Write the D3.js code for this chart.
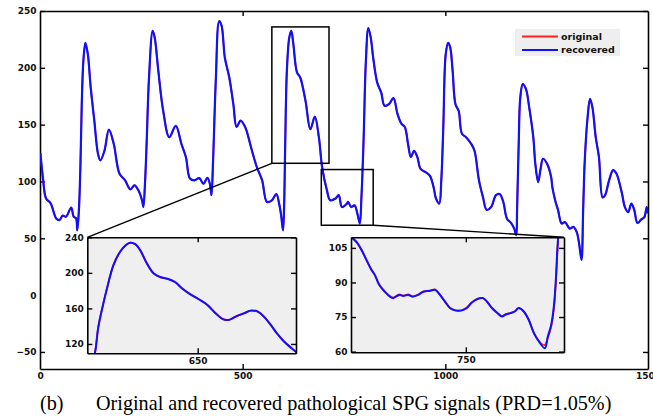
<!DOCTYPE html>
<html>
<head>
<meta charset="utf-8">
<script src="https://cdn.jsdelivr.net/npm/d3@7"></script>
<style>
  body { margin: 0; background: #fff; }
  .tick text { font-family: "DejaVu Sans", sans-serif; font-weight: bold; font-size: 9px; fill: #111; }
  .caption { font-family: "Liberation Serif", "Times New Roman", serif; font-size: 20.2px; fill: #000; }
  .legend text { font-family: "DejaVu Sans", sans-serif; font-weight: bold; font-size: 9.5px; fill: #111; }
</style>
</head>
<body>
<svg id="chart" width="653" height="417"></svg>
<script>
// main signal [sample, amplitude] (original and recovered overlap at this scale)
const mainSignal = [
  [1,125],[7,104],[15,85],[26,81],[40,67.5],[48,66],[56,70],[64,69],[77,77],[83,69],[89,67.5],[92,57],[96,75],
  [100,118],[103,168],[107,206],[112,222],[118,212],[125,183],[134,153.5],[143,124.5],[149,118.5],[159,127],
  [170,145.6],[182,133],[196,107],[210,101],[223,93],[233,96.5],[243,92],[252,83],[255,77.5],[259,98],[263,133],
  [269,191.5],[278,232.5],[283,226.6],[292,197],[304,162],[319,139],[335,149],[349,133],[360,121.4],[370,102.6],
  [381,101],[393,103],[403,98],[413,103.3],[419,98],[423,88],[427,118.5],[434,191.5],[442,241],[448,237],
  [456,209],[467,191.5],[477,168],[485,148],[495,153.5],[506,148],[511,143],[523,127],[535,112.6],[548,101],
  [560,82],[572,83.4],[583,89],[590,80.5],[595,70],[599.5,57],[602,75],[605,133],[609,197],[615,226.6],
  [620,232.5],[625,221],[634,196],[642,191.5],[655,171],[667,146],[678,157],[688,139],[696,112.6],[708,92],
  [716,83.4],[729,85],[737,88],[745,77.5],[757,80.5],[760,82],[768,77.5],[776,79],[783,71.7],[789,63],[793,86],
  [798,133],[804,206],[810,235],[816,226.6],[822,209],[832,187],[842,178],[850,166.7],[861,168],[872,173.4],
  [882,159.4],[892,150.6],[900,148],[908,133],[915,121.4],[923,127],[931,121.4],[939,111],[952,108],[962,105],
  [971,95],[977,85],[985,80.5],[990,101],[995,148],[1001,212],[1007,222],[1012,218],[1018,197.4],[1025,168],
  [1033,162],[1041,142],[1051,139],[1064,133],[1072,127],[1083,101],[1093,86],[1102,75],[1113,77.5],[1125,88],
  [1134,89],[1143,82],[1152,67.3],[1162,63.5],[1170,58.5],[1175,52.7],[1177,75],[1181,133],[1185,174],
  [1191,185.7],[1199,181.3],[1207,165],[1217,139],[1222,115.6],[1229,99.5],[1235,111],[1241,120],[1251,115.6],
  [1261,104],[1264,95],[1272,82],[1278,75],[1287,63],[1295,64.3],[1301,61.4],[1307,58.5],[1316,60],[1324,55.6],
  [1330,45.4],[1336,31],[1340,75],[1344,118.5],[1351,156.5],[1357,172.6],[1363,165],[1371,139],[1379,121.4],
  [1388,86],[1394,87.8],[1404,101],[1414,110],[1422,107],[1435,90.7],[1443,77.5],[1451,73],[1459,80.5],
  [1466,75],[1474,63.5],[1483,66.4],[1491,68.7],[1497,77.5],[1500,72]
];

// zoomed inset 1
const inset1Original = [
  [580,100],[582,109.5],[584.3,139.6],[587.6,165.8],[590.3,184.5],[594.3,208.9],[598.7,223.8],[602.7,231.3],
  [605.4,234],[608.7,232.1],[612,225.7],[616.4,210.8],[620.8,199.5],[625.3,195],[630.8,193.1],[635.2,189.4],
  [639.7,182.7],[644.7,176.3],[650.7,170.3],[656.3,163.9],[661.8,154.6],[666.9,147.9],[670.6,147.1],
  [675.1,150.8],[680.6,154.6],[685,157.5],[689.5,156.4],[693.9,150.8],[698.3,141.5],[702.3,132],
  [707.1,122.7],[712.1,115.2],[715.6,110.3]
];
const inset1Recovered = [
  [580,100],[582,109.5],[584.3,139.2],[587.6,165.4],[590.3,184.5],[594.3,208.6],[598.7,223.8],[602.7,231.6],
  [605.4,233.8],[608.7,232.3],[612,225.3],[616.4,210.5],[620.8,199.5],[625.3,195.3],[630.8,192.8],[635.2,189.4],
  [639.7,182.4],[644.7,176.3],[650.7,170.3],[656.3,164.2],[661.8,154.6],[666.9,147.7],[670.6,147.1],
  [675.1,150.8],[680.6,154.4],[685,157.5],[689.5,156.6],[693.9,150.5],[698.3,141.5],[702.3,132.2],
  [707.1,122.7],[712.1,115.2],[715.6,110.3]
];
const inset1YTicks = [120, 160, 200, 240];
const inset1XTicks = [650];

// zoomed inset 2
const inset2Original = [
  [681.2,109.6],[684.2,107.5],[687.3,104.3],[690.3,99.6],[693.3,95.6],[695.3,93.3],[697.9,89.2],[701.3,86],
  [704.3,84.1],[706.3,83.4],[710,84.8],[712.4,84.2],[715.4,84.8],[718,83.9],[721.4,84.8],[724.4,86],
  [728.5,86.4],[731.5,87],[734.5,84.6],[737.5,81.7],[740.5,78.9],[743.6,77.9],[747.6,77.9],[750.6,79.1],
  [753.6,81.3],[757,83],[760.3,83.2],[762.7,81.7],[765.7,78.9],[768.7,76.8],[771.7,75.4],[773.7,76.2],
  [776.8,76.7],[779.4,77.5],[781.8,78.9],[784.8,77.4],[787.8,73.8],[790.9,68.2],[793.9,64.6],[797.3,62.8],
  [799.3,66],[801.3,70.8],[802.9,78.5],[804.1,90],[805.1,104.5],[805.8,112]
];
const inset2Recovered = [
  [681.2,109.6],[684.2,107.7],[687.3,104.1],[690.3,99.8],[693.3,95.4],[695.3,93.3],[697.9,89],[701.3,86],
  [704.3,83.9],[706.3,83.2],[710,84.6],[712.4,84.2],[715.4,84.6],[718,83.9],[721.4,84.6],[724.4,86],
  [728.5,86.4],[731.5,86.8],[734.5,84.6],[737.5,81.7],[740.5,78.9],[743.6,77.9],[747.6,77.9],[750.6,78.9],
  [753.6,81.3],[757,82.8],[760.3,83.2],[762.7,81.7],[765.7,78.9],[768.7,77],[771.7,75.2],[773.7,76],
  [776.8,76.7],[779.4,77.4],[781.8,78.9],[784.8,77.4],[787.8,73.8],[790.9,68],[793.9,64.4],[797.5,61.5],
  [799.3,66.6],[801.3,71.6],[802.9,79.6],[804.1,91.1],[805.1,105.5],[805.8,112]
];
const inset2YTicks = [60, 75, 90, 105];
const inset2XTicks = [750];

const mainXTicks = [0, 500, 1000, 1500];
const mainYTicks = [-50, 0, 50, 100, 150, 200, 250];
const legendLabels = ["original", "recovered"];
const seriesColors = ["#ff2020", "#1010ff"];
const seriesWidths = [1.7, 2.2];
const captionTag = "(b)";
const captionText = "Original and recovered pathological SPG signals (PRD=1.05%)";

const svg = d3.select("#chart");
svg.append("rect").attr("width", 653).attr("height", 417).attr("fill", "#fff");

// main plot box
const box = { left: 40, right: 648, top: 11, bottom: 369 };
const x = d3.scaleLinear().domain([0, 1500]).range([box.left, box.right]);
const y = d3.scaleLinear().domain([-65, 250]).range([box.bottom, box.top]);
const fmt = d3.format("d");

function drawFrame(g, xs, ys, xt, yt, b) {
  g.append("g").attr("transform", `translate(0,${b.bottom})`)
    .call(d3.axisBottom(xs).tickValues(xt).tickFormat(fmt).tickSizeInner(-5).tickSizeOuter(0).tickPadding(4));
  g.append("g").attr("transform", `translate(0,${b.top})`)
    .call(d3.axisTop(xs).tickValues(xt).tickSizeInner(-5).tickSizeOuter(0).tickFormat(""));
  g.append("g").attr("transform", `translate(${b.left},0)`)
    .call(d3.axisLeft(ys).tickValues(yt).tickFormat(fmt).tickSizeInner(-5).tickSizeOuter(0).tickPadding(3.5));
  g.append("g").attr("transform", `translate(${b.right},0)`)
    .call(d3.axisRight(ys).tickValues(yt).tickSizeInner(-5).tickSizeOuter(0).tickFormat(""));
  g.selectAll(".domain").attr("stroke", "#000").attr("stroke-width", 1.6);
  g.selectAll(".tick line").attr("stroke", "#000").attr("stroke-width", 1.4);
  g.selectAll(".tick").filter(d => d === xs.domain()[0] || d === xs.domain()[1]).select("line").remove();
}

const mainG = svg.append("g");
drawFrame(mainG, x, y, mainXTicks, mainYTicks, box);

svg.append("clipPath").attr("id", "clipMain").append("rect")
  .attr("x", box.left).attr("y", box.top).attr("width", box.right - box.left).attr("height", box.bottom - box.top);

const mainLine = d3.line().x(d => x(d[0])).y(d => y(d[1])).curve(d3.curveCatmullRom.alpha(0.5));
[0, 1].forEach(i => {
  svg.append("path").datum(mainSignal)
    .attr("clip-path", "url(#clipMain)")
    .attr("d", mainLine)
    .attr("fill", "none")
    .attr("stroke", seriesColors[i])
    .attr("stroke-width", seriesWidths[i])
    .attr("stroke-linejoin", "round");
});

// zoom rectangles on main plot
const zoomRects = [
  { x0: 572, x1: 713, y0: 116, y1: 236 },
  { x0: 694, x1: 822, y0: 61.5, y1: 110.5 }
];
zoomRects.forEach(r => {
  svg.append("rect")
    .attr("x", x(r.x0)).attr("y", y(r.y1))
    .attr("width", x(r.x1) - x(r.x0)).attr("height", y(r.y0) - y(r.y1))
    .attr("fill", "none").attr("stroke", "#000").attr("stroke-width", 1.5);
});

// inset panels
const insets = [
  { b: { left: 87.3, right: 296, top: 237.3, bottom: 353.3 }, xd: [577, 715], yd: [109.5, 240],
    xt: inset1XTicks, yt: inset1YTicks, orig: inset1Original, rec: inset1Recovered },
  { b: { left: 351, right: 564, top: 237.3, bottom: 352.3 }, xd: [681, 809], yd: [59.7, 109.6],
    xt: inset2XTicks, yt: inset2YTicks, orig: inset2Original, rec: inset2Recovered }
];

// connector lines
svg.append("line")
  .attr("x1", x(zoomRects[0].x0)).attr("y1", y(zoomRects[0].y0))
  .attr("x2", insets[0].b.left).attr("y2", insets[0].b.top)
  .attr("stroke", "#000").attr("stroke-width", 1.4);
svg.append("line")
  .attr("x1", x(zoomRects[1].x1)).attr("y1", y(zoomRects[1].y0))
  .attr("x2", insets[1].b.right).attr("y2", insets[1].b.top)
  .attr("stroke", "#000").attr("stroke-width", 1.4);

insets.forEach((ins, k) => {
  const b = ins.b;
  const xs = d3.scaleLinear().domain(ins.xd).range([b.left, b.right]);
  const ys = d3.scaleLinear().domain(ins.yd).range([b.bottom, b.top]);
  const g = svg.append("g");
  g.append("rect").attr("x", b.left).attr("y", b.top)
    .attr("width", b.right - b.left).attr("height", b.bottom - b.top)
    .attr("fill", "#efefef");
  g.append("clipPath").attr("id", "clipInset" + k).append("rect")
    .attr("x", b.left).attr("y", b.top).attr("width", b.right - b.left).attr("height", b.bottom - b.top);
  const line = d3.line().x(d => xs(d[0])).y(d => ys(d[1])).curve(d3.curveCatmullRom);
  [ins.orig, ins.rec].forEach((data, i) => {
    g.append("path").datum(data)
      .attr("clip-path", `url(#clipInset${k})`)
      .attr("d", line)
      .attr("fill", "none")
      .attr("stroke", seriesColors[i])
      .attr("stroke-width", i === 0 ? 1.8 : 2)
      .attr("stroke-linejoin", "round");
  });
  drawFrame(g, xs, ys, ins.xt, ins.yt, b);
});

// legend
const leg = svg.append("g").attr("class", "legend");
leg.append("rect").attr("x", 515).attr("y", 29).attr("width", 105).attr("height", 27).attr("fill", "#eeeeee");
legendLabels.forEach((name, i) => {
  const ly = 36.5 + i * 13.5;
  leg.append("line").attr("x1", 522).attr("x2", 558).attr("y1", ly).attr("y2", ly)
    .attr("stroke", seriesColors[i]).attr("stroke-width", 2);
  leg.append("text").attr("x", 561).attr("y", ly).attr("dy", "0.35em").text(name);
});

// caption
svg.append("text").attr("class", "caption").attr("x", 40).attr("y", 410).text(captionTag);
svg.append("text").attr("class", "caption").attr("x", 96).attr("y", 410).text(captionText);
</script>
</body>
</html>
